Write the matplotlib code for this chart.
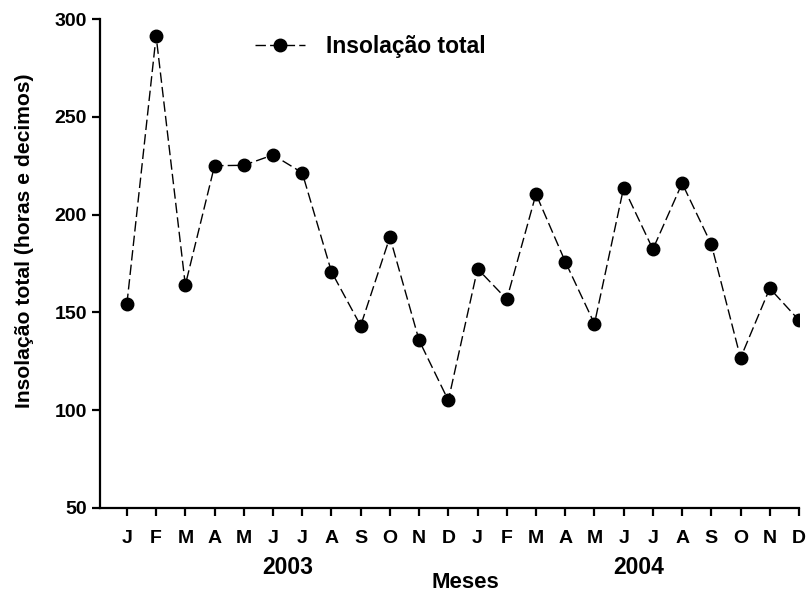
import matplotlib
matplotlib.use("Agg")
import matplotlib.pyplot as plt
import matplotlib.transforms as mtransforms

plt.rcParams['font.family'] = ['Liberation Sans', 'DejaVu Sans']
plt.rcParams['font.weight'] = 'bold'

# --- Data ---
months = ["J", "F", "M", "A", "M", "J", "J", "A", "S", "O", "N", "D"] * 2
years = ["2003", "2004"]
insolacao = [154.3, 291.3, 164.0, 225.0, 225.2, 230.5, 221.4, 170.8, 143.2, 188.5, 135.7, 105.0,
             172.3, 156.7, 210.5, 176.0, 144.2, 213.8, 182.3, 216.0, 184.8, 126.7, 162.3, 146.0]

fig = plt.figure(figsize=(8.11, 5.98), dpi=100)
ax = fig.add_axes([100 / 811, 90 / 598, 699 / 811, 489 / 598])

x = list(range(len(insolacao)))
ax.plot(x, insolacao, color='black', linewidth=1.0, dashes=(7.5, 3),
        marker='o', markersize=9, markerfacecolor='black', markeredgecolor='black',
        label='Insolação total')

# Axes styling
ax.set_xlim(-0.92, len(x) - 1)
ax.set_ylim(50, 300)
ax.set_yticks([50, 100, 150, 200, 250, 300])
ax.set_xticks(x)
ax.set_xticklabels(months)
for s in ['top', 'right']:
    ax.spines[s].set_visible(False)
for s in ['left', 'bottom']:
    ax.spines[s].set_linewidth(1.6)
ax.tick_params(axis='both', direction='out', length=5.5, width=1.6, labelsize=14)
ax.tick_params(axis='x', pad=10)
ax.tick_params(axis='y', pad=4)
for lbl in ax.get_xticklabels() + ax.get_yticklabels():
    lbl.set_fontweight('bold')

fig.text(25 / 811, 1 - 241 / 598, 'Insolação total (horas e decimos)', rotation=90,
         ha='center', va='center', fontsize=15.2, fontweight='bold')

# Year labels and axis title under the month ticks
trans = mtransforms.blended_transform_factory(ax.transData, fig.transFigure)
ax.text(5.5, 1 - 567 / 598, years[0], transform=trans, ha='center', va='center',
        fontsize=16.5, fontweight='bold')
ax.text(17.5, 1 - 567 / 598, years[1], transform=trans, ha='center', va='center',
        fontsize=16.5, fontweight='bold')
ax.text(11.57, 1 - 583 / 598, 'Meses', transform=trans, ha='center', va='center',
        fontsize=16, fontweight='bold')

leg = ax.legend(loc='center left', bbox_to_anchor=(255 / 811, 1 - 47 / 598),
                bbox_transform=fig.transFigure, frameon=False, fontsize=16.5,
                handlelength=2.2, handletextpad=0.9, borderpad=0, borderaxespad=0)
for t in leg.get_texts():
    t.set_fontweight('bold')

fig.savefig('out.png', dpi=100)
